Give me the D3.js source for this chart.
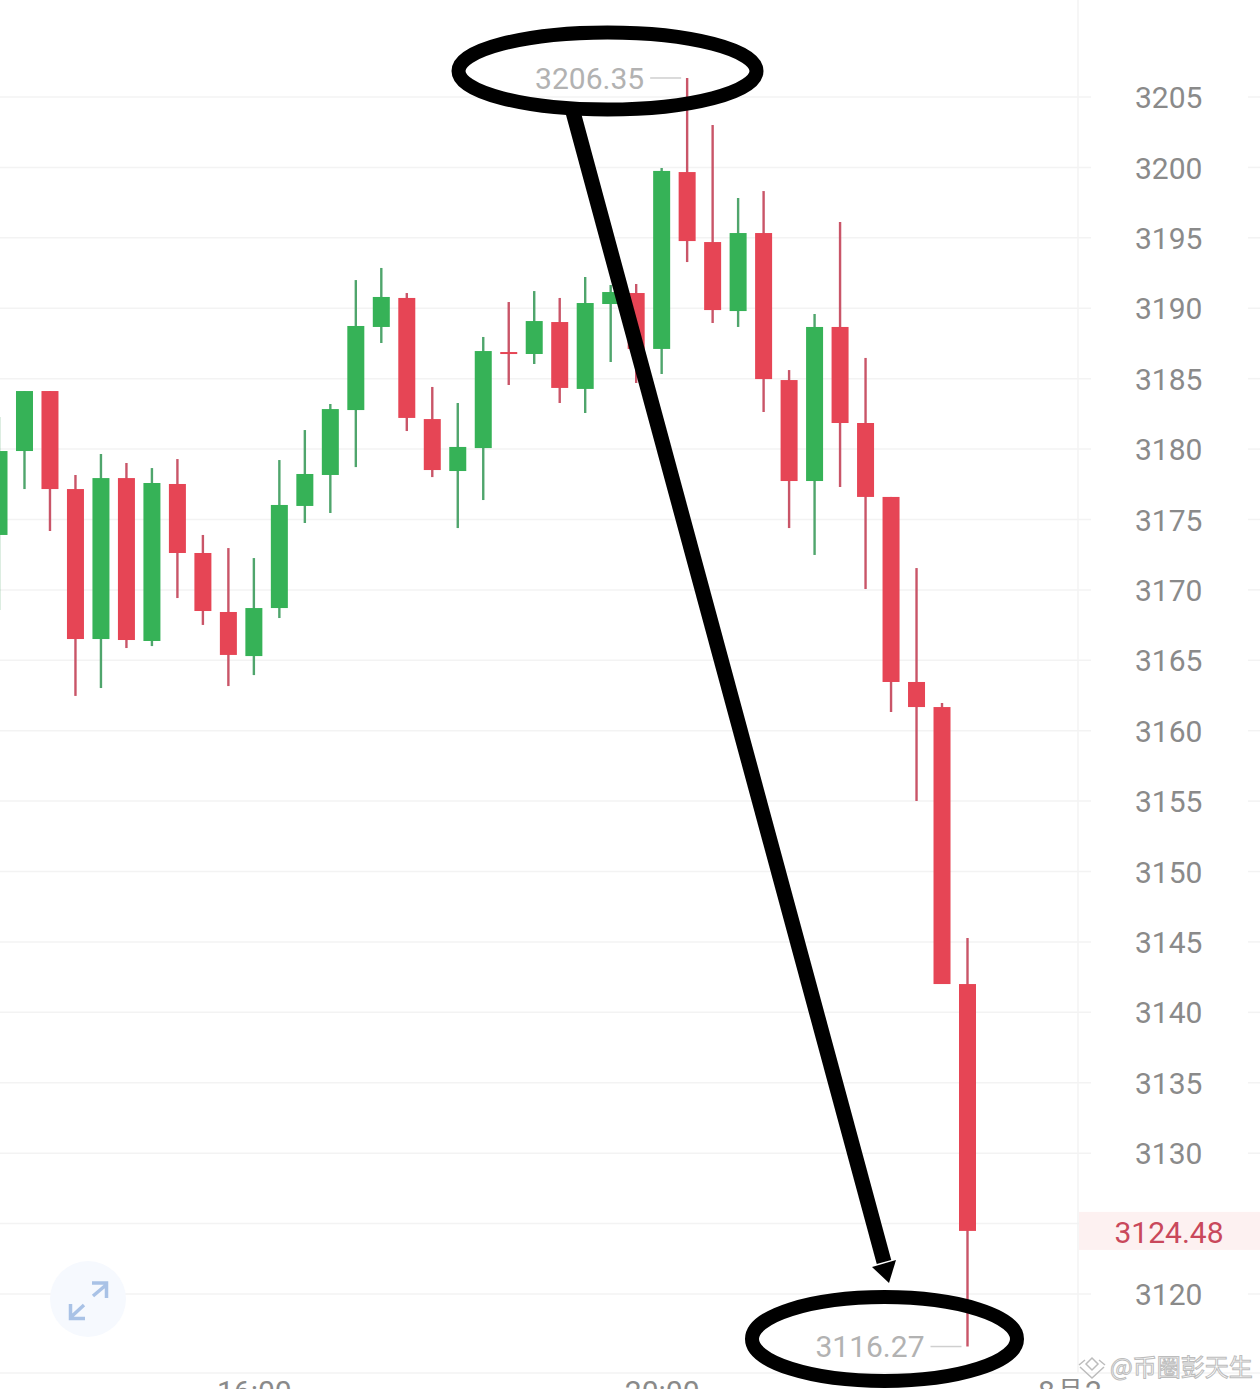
<!DOCTYPE html>
<html>
<head>
<meta charset="utf-8">
<script src="https://d3js.org/d3.v7.min.js"></script>
<style>
  html, body { margin: 0; padding: 0; background: #fff; overflow: hidden; }
  svg { display: block; }
  text { font-family: Roboto, sans-serif; font-size: 30px; }
  .priceAxis text, .timeAxis text { fill: #8a8a8a; }
  .priceAxis path.domain, .timeAxis path.domain, .timeAxis .tick line, .priceAxis .tick line { display: none; }
  .grid line { stroke: #f3f3f3; stroke-width: 1.5; }
  .extreme { fill: #b2b2b2; }
  .leader { stroke: #cfcfcf; stroke-width: 1.5; }
  .lastPrice { fill: #c9485b; }
  .ink { fill: none; stroke: #000; }
  .mark { font-family: "Noto Sans CJK SC", sans-serif; font-size: 24px; fill: #fff; stroke: #bcbcbc; stroke-width: 1; }
</style>
</head>
<body>
<script>
// 15 minute candles
const opens = [3173.90, 3179.86, 3184.12, 3177.16, 3166.51, 3177.94, 3166.37, 3177.52, 3172.62, 3168.43,
  3165.30, 3168.71, 3175.96, 3178.16, 3182.77, 3188.67, 3190.73, 3182.13, 3178.44, 3180.07,
  3186.89, 3186.75, 3189.02, 3184.27, 3190.30, 3191.08, 3187.11, 3199.67, 3194.70, 3189.80,
  3195.34, 3184.90, 3177.73, 3188.67, 3181.85, 3176.60, 3163.46, 3161.68, 3142.01];
const closes = [3179.86, 3184.12, 3177.16, 3166.51, 3177.94, 3166.44, 3177.59, 3172.62, 3168.50, 3165.38,
  3168.71, 3176.03, 3178.23, 3182.84, 3188.74, 3190.80, 3182.21, 3178.51, 3180.15, 3186.96,
  3186.79, 3189.09, 3184.34, 3190.37, 3191.15, 3187.11, 3199.75, 3194.77, 3189.87, 3195.34,
  3184.97, 3177.73, 3188.67, 3181.85, 3176.60, 3163.46, 3161.68, 3142.01, 3124.48];
const highs = [3182.28, 3184.12, 3184.12, 3178.16, 3179.65, 3179.01, 3178.65, 3179.29, 3173.90, 3172.97,
  3172.26, 3179.22, 3181.35, 3183.20, 3192.00, 3192.86, 3191.08, 3184.41, 3183.27, 3187.96,
  3190.44, 3191.22, 3190.73, 3192.22, 3191.65, 3191.72, 3199.96, 3206.35, 3203.01, 3197.83,
  3198.32, 3185.61, 3189.59, 3196.12, 3186.47, 3176.60, 3171.55, 3161.97, 3145.28];
const lows = [3168.57, 3177.16, 3174.18, 3162.47, 3163.03, 3165.87, 3166.01, 3169.42, 3167.51, 3163.17,
  3163.95, 3168.00, 3174.75, 3175.46, 3178.72, 3187.53, 3181.28, 3178.01, 3174.39, 3176.38,
  3184.55, 3186.04, 3183.27, 3182.56, 3186.18, 3184.69, 3185.33, 3193.28, 3188.95, 3188.67,
  3182.63, 3174.39, 3172.48, 3177.31, 3170.06, 3161.33, 3155.01, 3142.01, 3116.27];

const priceTicks = [3205, 3200, 3195, 3190, 3185, 3180, 3175, 3170, 3165, 3160, 3155, 3150, 3145, 3140, 3135, 3130, 3125, 3120];
const timeTicks = [10, 26, 42];
const timeLabels = ['16:00', '20:00', '8月2'];
const lastPrice = 3124.48;
const maxPrice = 3206.35;
const minPrice = 3116.27;
const maxIndex = 27;
const minIndex = 38;

const width = 1260, height = 1389;
const green = '#36b257', red = '#e64555';
const greenWick = '#4fa56c', redWick = '#c95568';
const bodyWidth = 17;

const x = d3.scaleLinear().domain([0, 38]).range([-1, 967.5]);
const y = d3.scaleLinear().domain([3205, 3120]).range([97, 1294]);

const svg = d3.select('body').append('svg')
  .attr('width', width)
  .attr('height', height);

// grid, with a gap behind the price labels
const grid = svg.append('g').attr('class', 'grid');
grid.selectAll('line.left').data(priceTicks).enter().append('line')
  .attr('class', 'left')
  .attr('x1', 0).attr('x2', 1091)
  .attr('y1', d => y(d)).attr('y2', d => y(d));
grid.selectAll('line.right').data(priceTicks).enter().append('line')
  .attr('class', 'right')
  .attr('x1', 1248).attr('x2', width)
  .attr('y1', d => y(d)).attr('y2', d => y(d));
grid.append('line').attr('x1', 1078).attr('x2', 1078).attr('y1', 0).attr('y2', 1373);
grid.append('line').attr('x1', 0).attr('x2', width).attr('y1', 1373).attr('y2', 1373);

// last price tag sits on the 3125 row
svg.append('rect')
  .attr('x', 1079).attr('y', y(lastPrice) - 19)
  .attr('width', width - 1079).attr('height', 38)
  .attr('fill', '#fdf1f1');

svg.append('g')
  .attr('class', 'priceAxis')
  .attr('transform', 'translate(1135,1)')
  .call(d3.axisRight(y).tickValues(priceTicks.filter(d => d !== 3125)).tickSize(0).tickPadding(0).tickFormat(d3.format('d')));

svg.append('text')
  .attr('class', 'lastPrice')
  .attr('x', 1169).attr('y', y(lastPrice) + 1)
  .attr('dy', '0.36em')
  .attr('text-anchor', 'middle')
  .text(lastPrice.toFixed(2));

svg.append('g')
  .attr('class', 'timeAxis')
  .attr('transform', 'translate(0,1373)')
  .call(d3.axisBottom(x).tickValues(timeTicks).tickSize(0).tickPadding(8).tickFormat((d, i) => timeLabels[i]));

// candles
const candles = svg.selectAll('g.candle').data(d3.range(opens.length)).enter()
  .append('g').attr('class', 'candle');

candles.append('line')
  .attr('x1', i => x(i)).attr('x2', i => x(i))
  .attr('y1', i => y(highs[i])).attr('y2', i => y(lows[i]))
  .attr('stroke', i => closes[i] >= opens[i] ? greenWick : redWick)
  .attr('stroke-width', 2.4);

candles.append('rect')
  .attr('x', i => x(i) - bodyWidth / 2)
  .attr('width', bodyWidth)
  .attr('y', i => y(Math.max(opens[i], closes[i])))
  .attr('height', i => Math.max(2, Math.abs(y(opens[i]) - y(closes[i]))))
  .attr('fill', i => closes[i] >= opens[i] ? green : red);

// high and low labels
[[maxIndex, maxPrice], [minIndex, minPrice]].forEach(([i, p]) => {
  svg.append('line')
    .attr('class', 'leader')
    .attr('x1', x(i) - 37).attr('x2', x(i) - 6)
    .attr('y1', y(p)).attr('y2', y(p));
  svg.append('text')
    .attr('class', 'extreme')
    .attr('x', x(i) - 43).attr('y', y(p))
    .attr('dy', '0.36em')
    .attr('text-anchor', 'end')
    .text(p.toFixed(2));
});

// expand button
const btn = svg.append('g').attr('fill', 'none').attr('stroke', '#a9c2e6').attr('stroke-width', 3.5);
btn.append('circle').attr('cx', 88).attr('cy', 1299).attr('r', 38).attr('fill', '#f6f9fe').attr('stroke', 'none');
btn.append('path').attr('d', 'M93 1296L106 1285M92 1283H106.500V1298');
btn.append('path').attr('d', 'M84 1305L71 1317M70.500 1304V1318.500H85');

// hand drawn marks over the chart
svg.append('ellipse').attr('class', 'ink').attr('stroke-width', 14)
  .attr('cx', 607.5).attr('cy', 71).attr('rx', 149).attr('ry', 38.5);
svg.append('ellipse').attr('class', 'ink').attr('stroke-width', 14)
  .attr('cx', 884.5).attr('cy', 1339).attr('rx', 132.500).attr('ry', 42);
svg.append('line').attr('class', 'ink').attr('stroke-width', 15)
  .attr('x1', 573).attr('y1', 112).attr('x2', 884).attr('y2', 1262);
svg.append('path').attr('d', 'M872 1267L896 1260L889 1283Z').attr('fill', '#000');

// watermark
const mark = svg.append('g').attr('fill', 'none').attr('stroke', '#bcbcbc').attr('stroke-width', 1.5);
mark.append('path').attr('d', 'M1079 1365L1085 1360M1105 1365L1099 1360M1086 1364L1092 1358L1098 1364L1092 1370ZM1080 1367L1092 1378L1104 1367');
svg.append('text').attr('class', 'mark')
  .attr('x', 1110).attr('y', 1376)
  .text('@币圈彭天生');
</script>
</body>
</html>
